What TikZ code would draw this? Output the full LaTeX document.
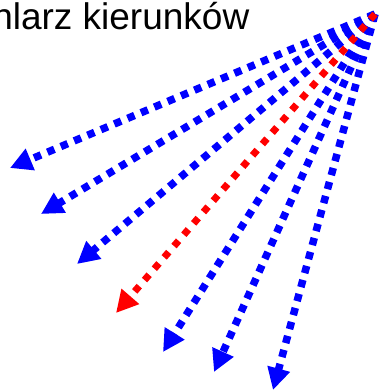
\documentclass[tikz,border=0pt]{standalone}
\usepackage{fontspec}
\setmainfont{Liberation Sans}
\usetikzlibrary{arrows.meta}
\definecolor{myblue}{RGB}{0,0,255}
\definecolor{myred}{RGB}{255,0,0}
\tikzset{
  bluearrow/.style={draw=myblue, line width=7.5pt, dash pattern=on 7.5pt off 7pt,
    -{Triangle[length=22pt,width=22pt,fill=myblue]}},
  redarrow/.style={draw=myred, line width=7pt, dash pattern=on 7pt off 8pt,
    -{Triangle[length=22pt,width=22pt,fill=myred]}},
  titletext/.style={font=\fontsize{37}{40}\selectfont, inner sep=0pt, anchor=base east}
}
\begin{document}
\begin{tikzpicture}[x=1pt,y=-1pt]
\useasboundingbox (0,0) rectangle (379,391);
\clip (0,0) rectangle (379,391);
\fill[white] (0,0) rectangle (379,391);
\node[titletext] (title) at (249.5,29.5) {Wachlarz kierunków};
\coordinate (o) at (375,14);
\coordinate (t1) at (10,168);
\coordinate (t2) at (41,214);
\coordinate (t3) at (77,264);
\coordinate (t4) at (116,313);
\coordinate (t5) at (163,352);
\coordinate (t6) at (214,372);
\coordinate (t7) at (273,390);
\draw[bluearrow] (o) -- (t1);
\draw[bluearrow] (o) -- (t2);
\draw[bluearrow] (o) -- (t3);
\draw[bluearrow] (o) -- (t5);
\draw[bluearrow] (o) -- (t6);
\draw[bluearrow] (o) -- (t7);
\draw[redarrow] (o) -- (t4);
\end{tikzpicture}
\end{document}
